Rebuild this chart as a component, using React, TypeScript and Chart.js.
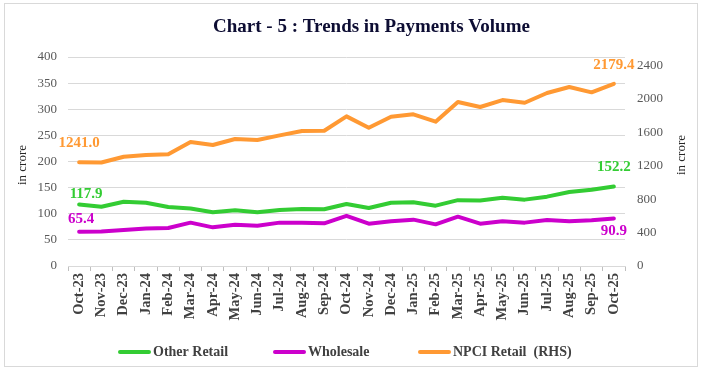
import React, { useEffect, useRef } from "react";
import { Chart, registerables } from "chart.js";

Chart.register(...registerables);

const categories = [
  "Oct-23", "Nov-23", "Dec-23", "Jan-24", "Feb-24", "Mar-24", "Apr-24", "May-24", "Jun-24",
  "Jul-24", "Aug-24", "Sep-24", "Oct-24", "Nov-24", "Dec-24", "Jan-25", "Feb-25", "Mar-25",
  "Apr-25", "May-25", "Jun-25", "Jul-25", "Aug-25", "Sep-25", "Oct-25",
];

const otherRetail = [
  117.9, 113.5, 123.0, 121.0, 113.0, 110.0, 103.0, 106.5, 103.0, 107.0, 109.0, 108.5, 118.7,
  111.0, 121.0, 122.0, 115.5, 126.0, 125.5, 130.8, 127.0, 132.7, 141.6, 146.0, 152.2,
];

const wholesale = [
  65.4, 66.0, 69.0, 72.0, 72.7, 83.0, 74.0, 79.0, 77.0, 83.0, 83.0, 81.7, 96.0,
  81.0, 85.5, 88.7, 79.7, 94.4, 81.0, 85.5, 83.0, 88.0, 85.5, 87.4, 90.9,
];

const npciRetail = [
  1241.0, 1238.0, 1307.0, 1327.0, 1336.0, 1483.0, 1447.0, 1519.0, 1507.0, 1563.0, 1615.0, 1618.0, 1790.0,
  1654.0, 1786.0, 1814.0, 1726.0, 1961.0, 1902.0, 1985.0, 1953.0, 2069.0, 2141.0, 2077.0, 2179.4,
];

const leftTicks = [0, 50, 100, 150, 200, 250, 300, 350, 400];
const rightTicks = [0, 400, 800, 1200, 1600, 2000, 2400];

const seriesNames = ["Other Retail", "Wholesale", "NPCI Retail  (RHS)"];
const titleText = "Chart - 5 : Trends in Payments Volume";
const axisTitle = "in crore";

const GREEN = "#33CC33";
const MAGENTA = "#CC00CC";
const ORANGE = "#FF9933";
const SERIF = "'Liberation Serif', 'DejaVu Serif', serif";

// label offsets (first, last) per dataset: [dx, dy]
const labelOffsets = [
  [[7, -10], [0, -19]],
  [[2, -13], [0, 13]],
  [[0, -19], [0, -19]],
];

const decorPlugin = {
  id: "decor",
  afterDatasetsDraw(chart: any) {
    const ctx = chart.ctx;
    ctx.save();
    ctx.font = `bold 15px ${SERIF}`;
    ctx.textAlign = "center";
    ctx.textBaseline = "middle";
    chart.data.datasets.forEach((ds: any, di: number) => {
      const meta = chart.getDatasetMeta(di);
      const n = ds.data.length;
      [0, n - 1].forEach((idx, k) => {
        const pt = meta.data[idx];
        const [dx, dy] = labelOffsets[di][k];
        ctx.fillStyle = ds.borderColor;
        ctx.fillText(Number(ds.data[idx]).toFixed(1), pt.x + dx, pt.y + dy);
      });
    });
    ctx.restore();
  },
  afterDraw(chart: any) {
    const ctx = chart.ctx;
    const area = chart.chartArea;
    ctx.save();
    ctx.font = `bold 19px ${SERIF}`;
    ctx.fillStyle = "#0d0d33";
    ctx.textAlign = "center";
    ctx.textBaseline = "middle";
    ctx.fillText(titleText, (area.left + area.right) / 2 + 25, 27);

    ctx.font = `13px ${SERIF}`;
    ctx.fillStyle = "#262626";
    ctx.save();
    ctx.translate(23, 165);
    ctx.rotate(-Math.PI / 2);
    ctx.fillText(axisTitle, 0, 0);
    ctx.restore();
    ctx.save();
    ctx.translate(682, 155);
    ctx.rotate(-Math.PI / 2);
    ctx.fillText(axisTitle, 0, 0);
    ctx.restore();

    const legendY = 352;
    const starts = [118, 273, 418];
    ctx.font = `bold 14px ${SERIF}`;
    ctx.textAlign = "left";
    chart.data.datasets.forEach((ds: any, i: number) => {
      const x0 = starts[i];
      ctx.strokeStyle = ds.borderColor;
      ctx.lineWidth = 4;
      ctx.lineCap = "round";
      ctx.beginPath();
      ctx.moveTo(x0 + 2, legendY);
      ctx.lineTo(x0 + 31, legendY);
      ctx.stroke();
      ctx.fillStyle = "#404040";
      ctx.fillText(ds.label, x0 + 35, legendY);
    });
    ctx.restore();
  },
};

export default function App() {
  const canvasRef = useRef<HTMLCanvasElement | null>(null);

  useEffect(() => {
    document.body.style.margin = "0";
    const canvas = canvasRef.current;
    if (!canvas) return;
    const chart = new Chart(canvas, {
      type: "line",
      data: {
        labels: categories,
        datasets: [
          { label: seriesNames[0], data: otherRetail, borderColor: GREEN, backgroundColor: GREEN, yAxisID: "y" },
          { label: seriesNames[1], data: wholesale, borderColor: MAGENTA, backgroundColor: MAGENTA, yAxisID: "y" },
          { label: seriesNames[2], data: npciRetail, borderColor: ORANGE, backgroundColor: ORANGE, yAxisID: "y1" },
        ].map((d) => ({
          ...d,
          borderWidth: 4,
          pointRadius: 0,
          pointHoverRadius: 0,
          tension: 0,
          borderJoinStyle: "round" as const,
          borderCapStyle: "round" as const,
        })),
      },
      options: {
        responsive: false,
        animation: false,
        events: [],
        layout: { padding: { top: 57, left: 0, right: 0, bottom: 0 } },
        plugins: {
          legend: { display: false },
          title: { display: false },
          tooltip: { enabled: false },
        },
        scales: {
          x: {
            type: "category",
            offset: true,
            afterFit: (s: any) => { s.height = 106; },
            grid: {
              display: true,
              drawOnChartArea: false,
              drawTicks: true,
              tickLength: 5,
              offset: true,
              color: "#bfbfbf",
            },
            border: { display: true, color: "#d9d9d9", width: 1 },
            ticks: {
              autoSkip: false,
              minRotation: 90,
              maxRotation: 90,
              padding: 2,
              color: "#404040",
              font: { family: SERIF, size: 14.5, weight: "bold" },
            },
          },
          y: {
            position: "left",
            min: 0,
            max: 400,
            afterFit: (s: any) => { s.width = 68; },
            afterBuildTicks: (s: any) => { s.ticks = leftTicks.map((v) => ({ value: v })); },
            grid: { color: "#d9d9d9", drawTicks: false, lineWidth: 1 },
            border: { display: false },
            ticks: {
              padding: 11,
              color: "#595959",
              font: { family: SERIF, size: 13 },
              callback: (v: any) => String(v),
            },
          },
          y1: {
            position: "right",
            min: 0,
            max: 2500,
            afterFit: (s: any) => { s.width = 79; },
            afterBuildTicks: (s: any) => { s.ticks = rightTicks.map((v) => ({ value: v })); },
            grid: { drawOnChartArea: false, drawTicks: false },
            border: { display: false },
            ticks: {
              padding: 12,
              color: "#595959",
              font: { family: SERIF, size: 13 },
              callback: (v: any) => String(v),
            },
          },
        },
      },
      plugins: [decorPlugin],
    });
    return () => chart.destroy();
  }, []);

  return (
    <div style={{ position: "absolute", left: 0, top: 0, width: 704, height: 372, background: "#fff" }}>
      <div
        style={{
          position: "absolute",
          left: 4,
          top: 3,
          width: 694,
          height: 364,
          border: "1px solid #d9d9d9",
          boxSizing: "border-box",
          pointerEvents: "none",
        }}
      />
      <canvas ref={canvasRef} width={704} height={372} style={{ position: "absolute", left: 0, top: 0, width: 704, height: 372 }} />
    </div>
  );
}
